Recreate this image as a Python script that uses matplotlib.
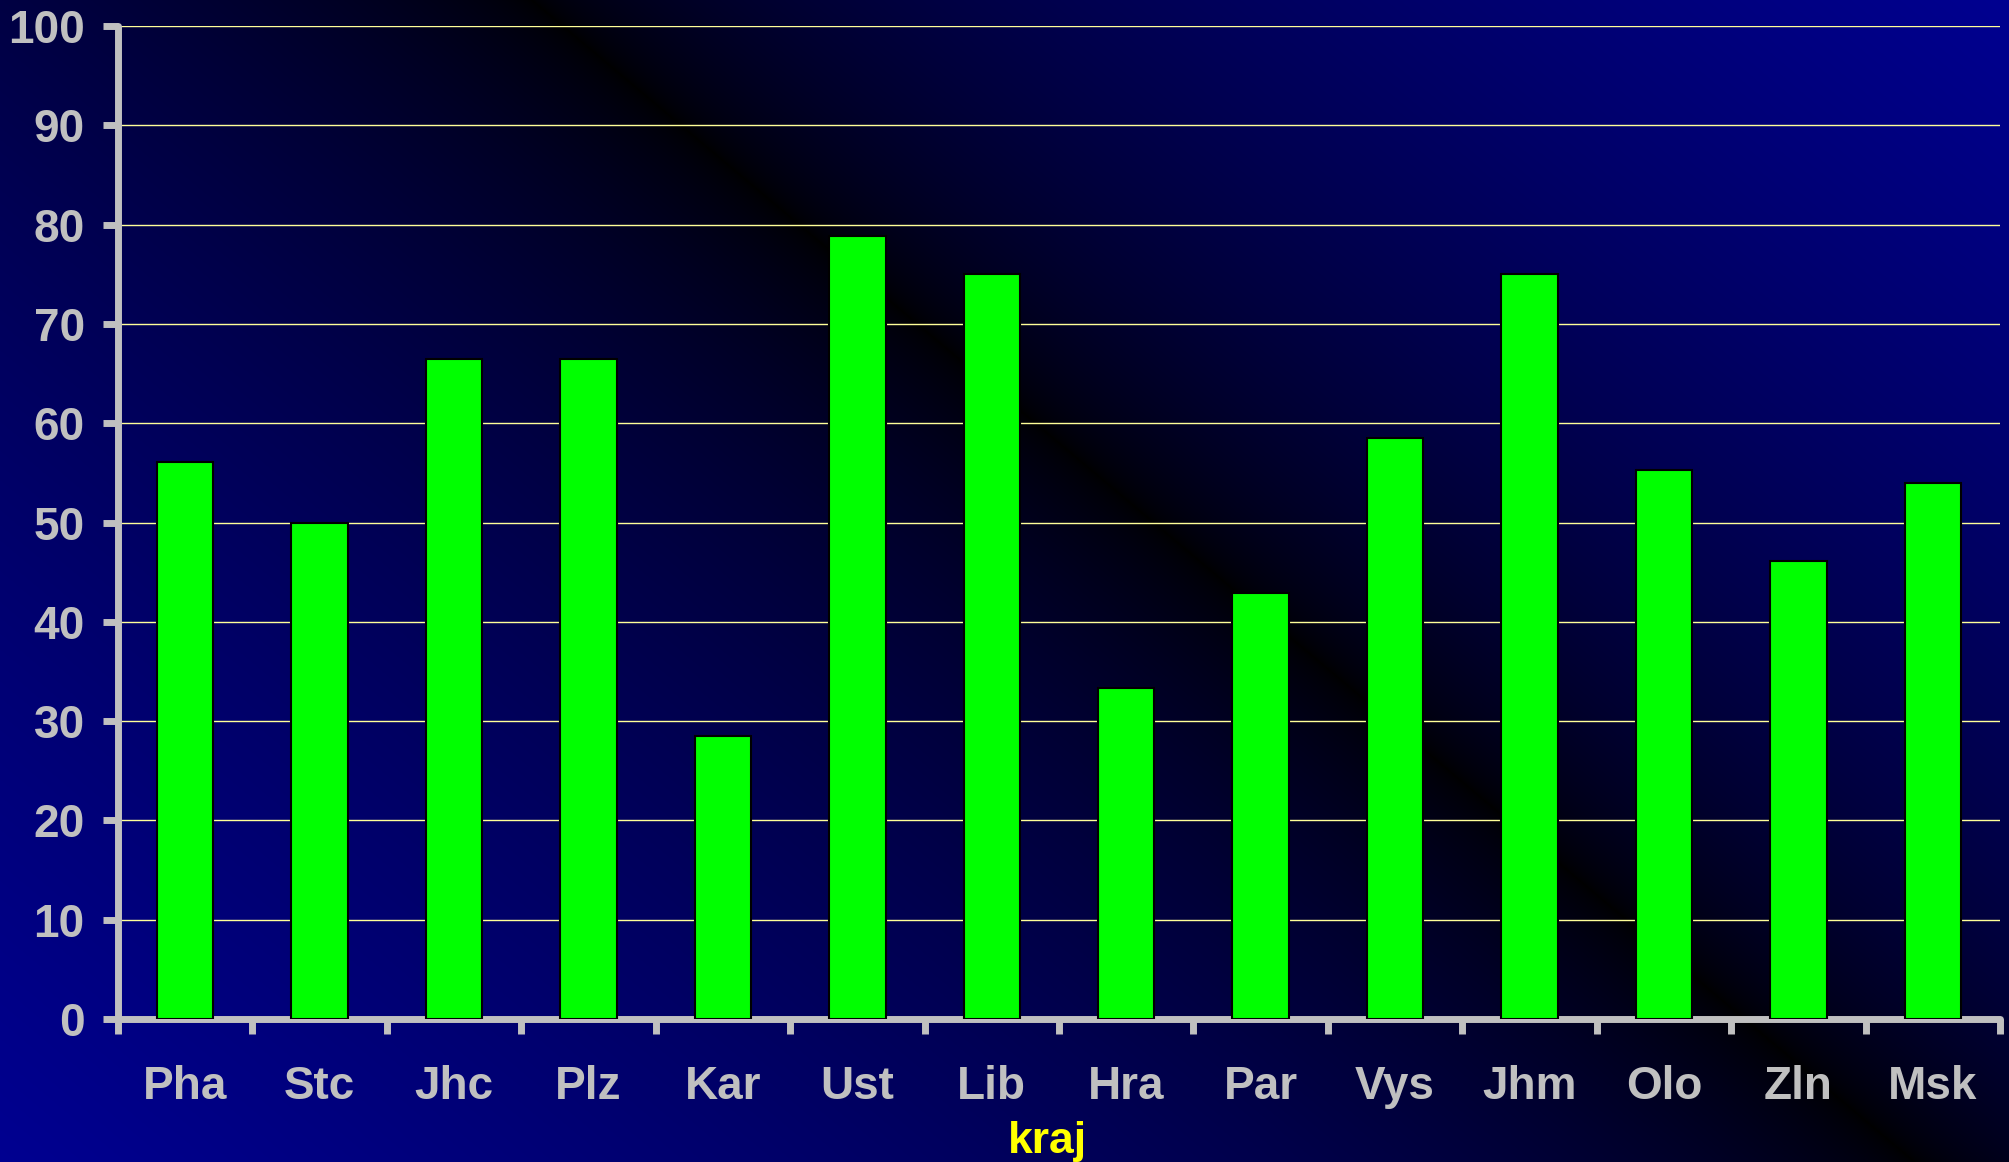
import matplotlib
matplotlib.use('Agg')
import matplotlib.pyplot as plt
import numpy as np

# procento podle kraje
kraje = ['Pha', 'Stc', 'Jhc', 'Plz', 'Kar', 'Ust', 'Lib', 'Hra', 'Par', 'Vys', 'Jhm', 'Olo', 'Zln', 'Msk']
hodnoty = [56.1, 50.0, 66.5, 66.5, 28.5, 78.9, 75.0, 33.3, 42.9, 58.5, 75.0, 55.3, 46.1, 54.0]
y_ticks = [0, 10, 20, 30, 40, 50, 60, 70, 80, 90, 100]

W, H = 2009, 1162
fig = plt.figure(figsize=(W / 100, H / 100), dpi=100)

# pozadi - diagonalni prechod modra / cerna / modra
yy, xx = np.mgrid[0:H, 0:W]
k = 1.19
d = ((xx - 532) - k * yy) / np.sqrt(1 + k * k)
t = np.where(d < 0, -d / 1240, d / 960)
t = np.clip(t, 0, 1) ** 0.6
bg = np.zeros((H, W, 3))
bg[..., 2] = 0.57 * t
bg_ax = fig.add_axes([0, 0, 1, 1], zorder=-10)
bg_ax.imshow(bg, aspect='auto', interpolation='bilinear')
bg_ax.axis('off')

ax = fig.add_axes([118 / W, 1 - 1019 / H, (2000 - 118) / W, (1019 - 26) / H])
ax.set_facecolor('none')

x = np.arange(len(kraje))
ax.bar(x, hodnoty, width=0.42, color='#00FF00', edgecolor='black', linewidth=1.5, zorder=3)

ax.set_xlim(-0.5, len(kraje) - 0.5)
ax.set_ylim(0, 100)
ax.set_yticks(y_ticks)
ax.set_yticklabels([str(v) for v in y_ticks])
ax.yaxis.grid(True, color='#FFFF99', linewidth=1.0, zorder=1)
ax.set_axisbelow(True)

# carky mezi kategoriemi, popisky uprostred
ax.set_xticks(np.arange(-0.5, len(kraje), 1.0))
ax.set_xticklabels([])
ax.set_xticks(x, minor=True)
ax.set_xticklabels(kraje, minor=True)

gray = '#C0C0C0'
for s in ['top', 'right']:
    ax.spines[s].set_visible(False)
for s in ['left', 'bottom']:
    ax.spines[s].set_color(gray)
    ax.spines[s].set_linewidth(5)
    ax.spines[s].set_capstyle('round')

ax.tick_params(axis='y', which='major', direction='out', length=11, width=5, color=gray,
               labelcolor=gray, labelsize=33, pad=13)
ax.tick_params(axis='x', which='major', direction='out', length=11, width=5, color=gray)
ax.tick_params(axis='x', which='minor', length=0, labelcolor=gray, labelsize=33, pad=33)
for lab in ax.get_yticklabels() + ax.get_xticklabels(minor=True):
    lab.set_fontfamily('Liberation Sans')
    lab.set_fontweight('bold')

fig.text(1047 / W, 1 - 1153 / H, 'kraj', color='#FFFF00', fontsize=32, fontweight='bold',
         family='Liberation Sans', ha='center', va='baseline')

fig.savefig('out.png', dpi=100)
